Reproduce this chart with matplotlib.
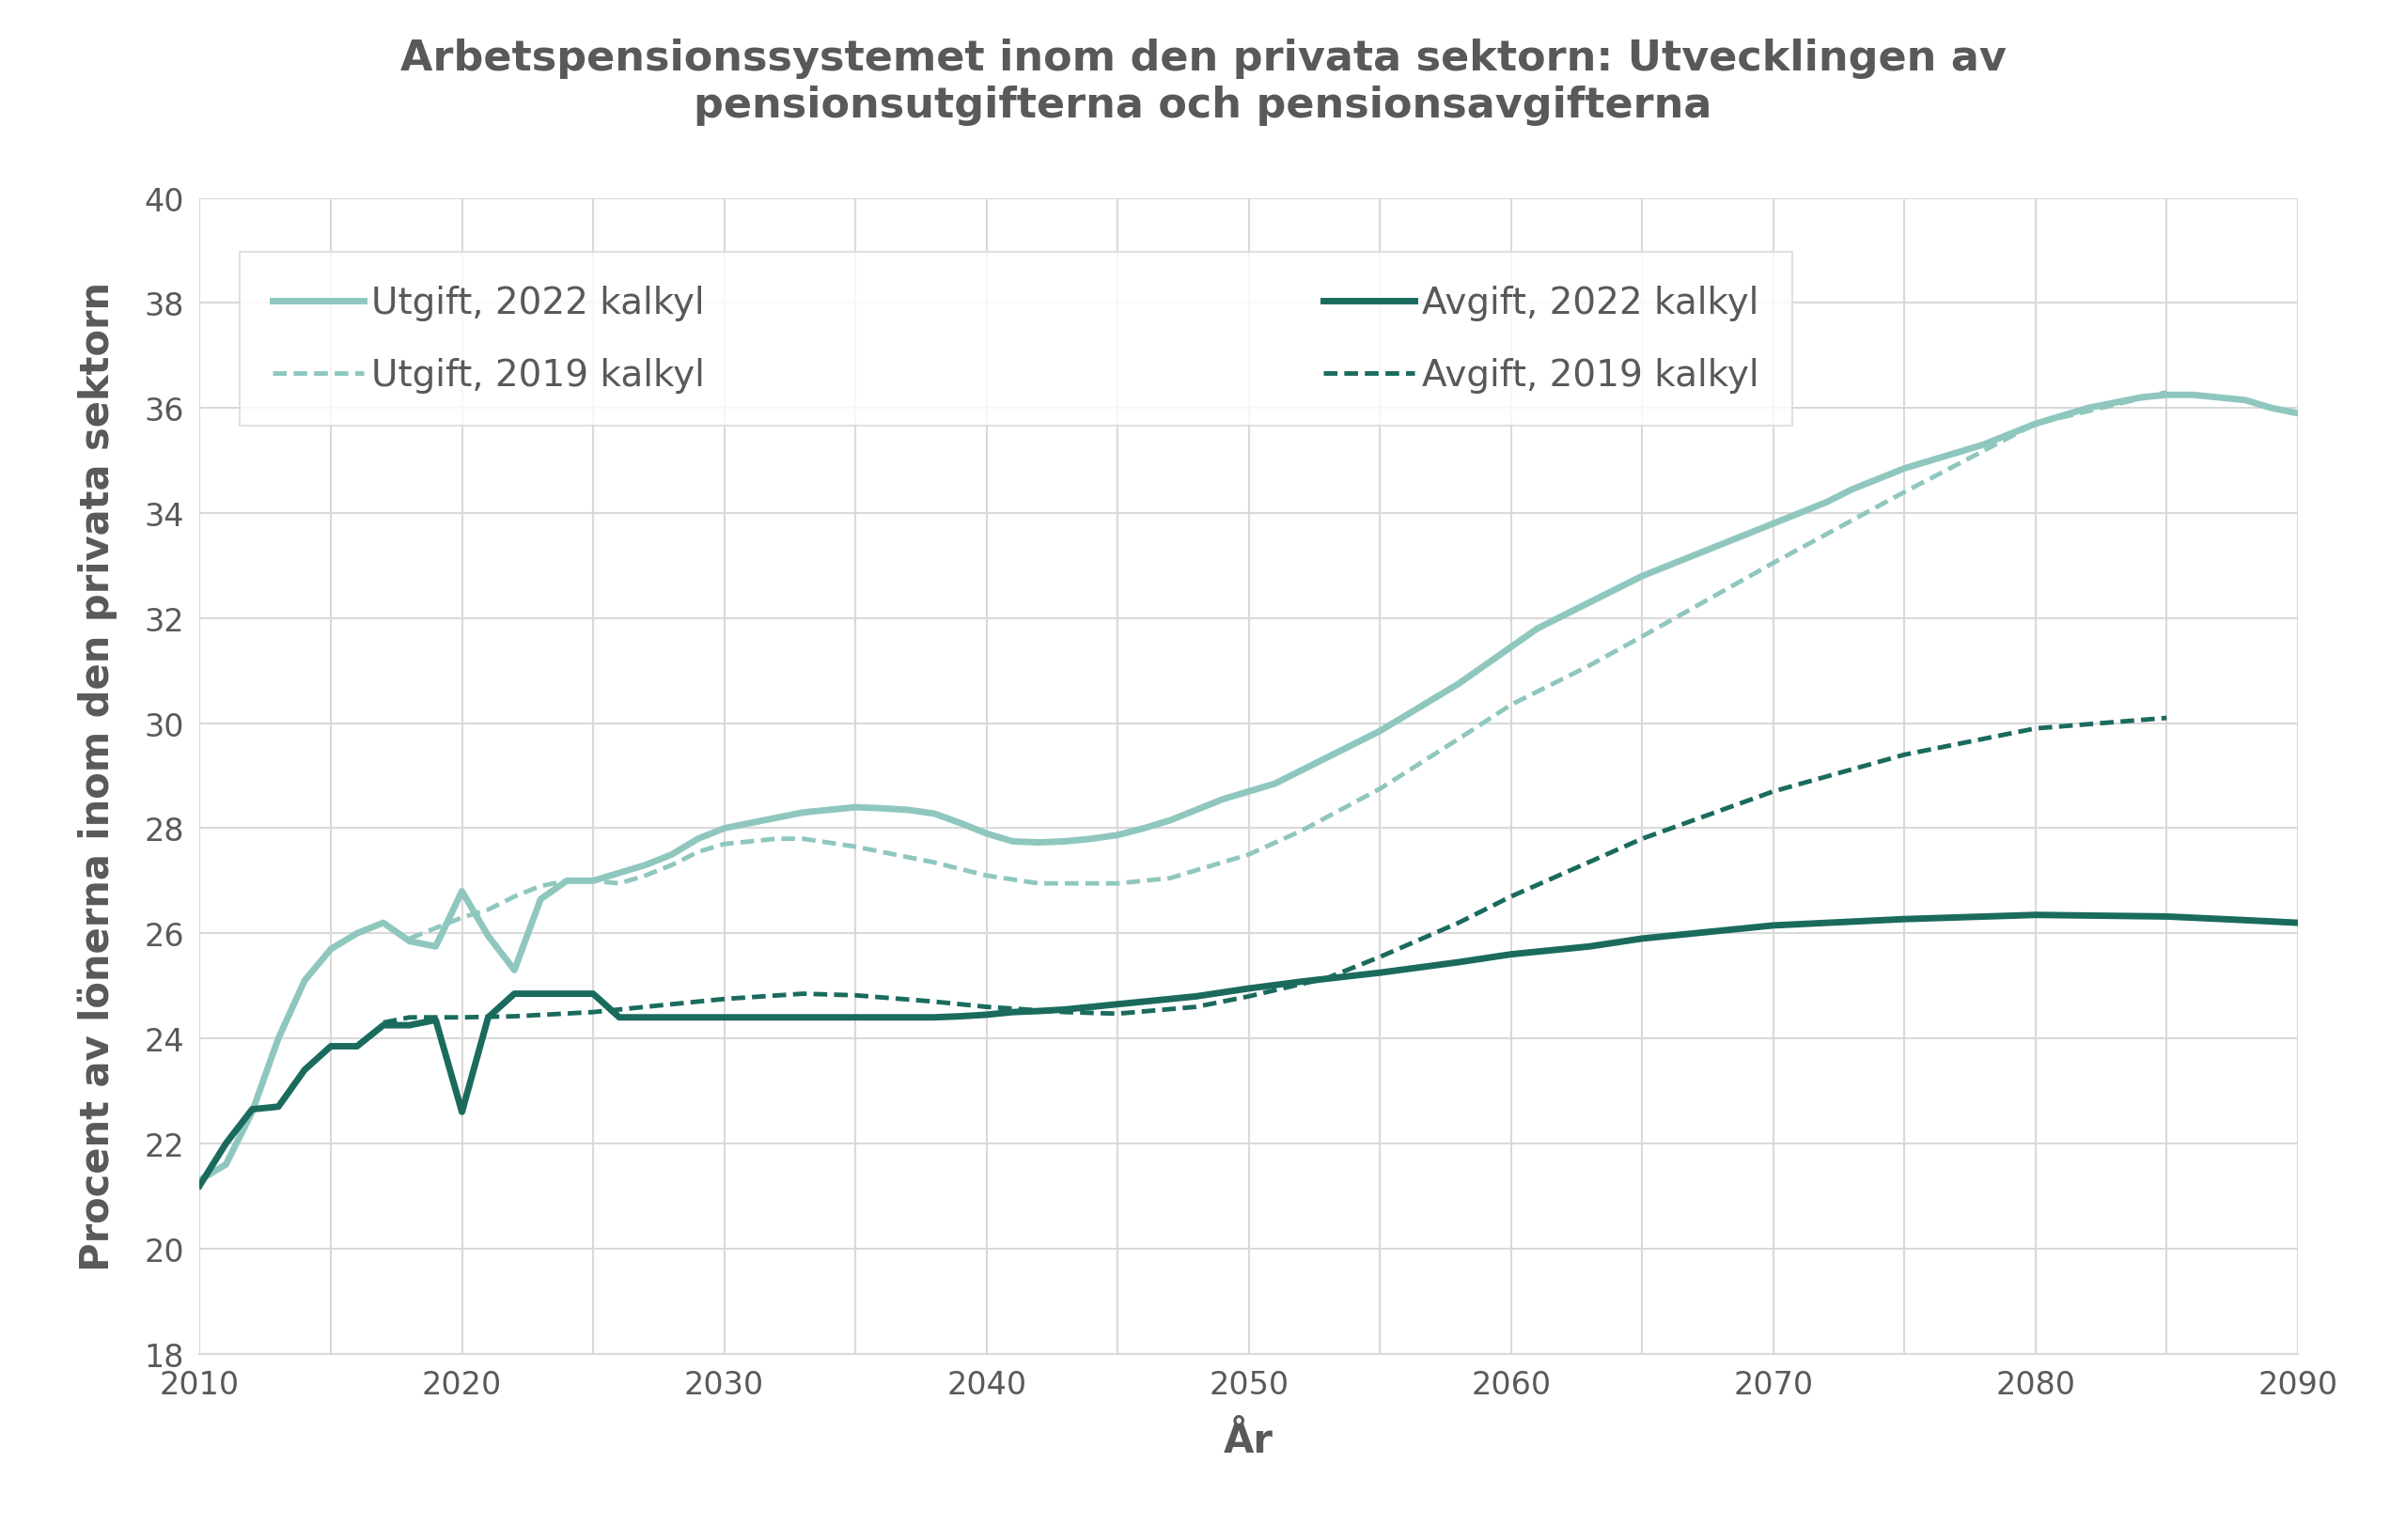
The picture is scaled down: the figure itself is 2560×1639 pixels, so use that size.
import matplotlib
matplotlib.use("Agg")
import matplotlib.pyplot as plt

ut22_years = list(range(2010, 2091))
ut22 = [21.3, 21.6, 22.6, 24.0, 25.1, 25.7, 26.0, 26.2, 25.85, 25.75,
        26.8, 25.95, 25.3, 26.65, 27.0, 27.0, 27.15, 27.3, 27.5, 27.8,
        28.0, 28.1, 28.2, 28.3, 28.35, 28.4, 28.38, 28.35, 28.28, 28.1,
        27.9, 27.75, 27.73, 27.75, 27.8, 27.87, 28.0, 28.15, 28.35, 28.55,
        28.7, 28.85, 29.1, 29.35, 29.6, 29.85, 30.15, 30.45, 30.75, 31.1,
        31.45, 31.8, 32.05, 32.3, 32.55, 32.8, 33.0, 33.2, 33.4, 33.6,
        33.8, 34.0, 34.2, 34.45, 34.65, 34.85, 35.0, 35.15, 35.3, 35.5,
        35.7, 35.85, 36.0, 36.1, 36.2, 36.25, 36.25, 36.2, 36.15, 36.0, 35.9]
av22_years = list(range(2010, 2047)) + [2048, 2050, 2052, 2055, 2058, 2060, 2063, 2065, 2068, 2070, 2075, 2080, 2085, 2088, 2090]
av22 = [21.2, 22.0, 22.65, 22.7, 23.4, 23.85, 23.85, 24.25, 24.25, 24.35,
        22.6, 24.4, 24.85, 24.85, 24.85, 24.85, 24.4, 24.4, 24.4, 24.4,
        24.4, 24.4, 24.4, 24.4, 24.4, 24.4, 24.4, 24.4, 24.4, 24.42,
        24.45, 24.5, 24.52, 24.55, 24.6, 24.65, 24.7,
        24.8, 24.95, 25.08, 25.25, 25.45, 25.6, 25.75, 25.9, 26.05, 26.15,
        26.27, 26.35, 26.32, 26.25, 26.2]
ut19_years = [2018, 2019, 2020, 2021, 2022, 2023, 2024, 2025, 2026, 2027, 2028, 2029, 2030,
              2032, 2033, 2035, 2038, 2040, 2042, 2045, 2047, 2050, 2052, 2055, 2058, 2060,
              2063, 2065, 2070, 2075, 2080, 2085]
ut19 = [25.9, 26.1, 26.3, 26.45, 26.7, 26.9, 27.0, 27.0, 26.95, 27.1, 27.3, 27.55, 27.7,
        27.8, 27.8, 27.65, 27.35, 27.1, 26.95, 26.95, 27.05, 27.5, 27.95, 28.75, 29.7, 30.35,
        31.1, 31.65, 33.05, 34.4, 35.7, 36.3]
av19_years = [2017, 2018, 2020, 2022, 2025, 2028, 2030, 2033, 2035, 2038, 2040, 2043, 2045,
              2048, 2050, 2053, 2055, 2058, 2060, 2065, 2070, 2075, 2080, 2085]
av19 = [24.3, 24.4, 24.4, 24.42, 24.5, 24.65, 24.75, 24.85, 24.82, 24.7, 24.6, 24.5, 24.47,
        24.6, 24.8, 25.15, 25.55, 26.2, 26.7, 27.8, 28.7, 29.4, 29.9, 30.1]

light = "#8fc7bf"
dark = "#1a6b5e"
gray = "#595959"

fig = plt.figure(figsize=(25.6, 16.4), dpi=100)
ax = fig.add_axes([0.083, 0.121, 0.872, 0.75])
ax.plot(ut22_years, ut22, color=light, lw=5, label="Utgift, 2022 kalkyl")
ax.plot(av22_years, av22, color=dark, lw=5, label="Avgift, 2022 kalkyl")
ax.plot(ut19_years, ut19, color=light, lw=3.5, ls=(0, (3, 1.5)), label="Utgift, 2019 kalkyl")
ax.plot(av19_years, av19, color=dark, lw=3.5, ls=(0, (3, 1.5)), label="Avgift, 2019 kalkyl")

ax.set_xlim(2010, 2090)
ax.set_ylim(18, 40)
ax.set_xticks(range(2010, 2091, 10))
ax.set_yticks(range(18, 41, 2))
ax.set_xticks(range(2010, 2091, 5), minor=True)
ax.grid(True, which="both", color="#d9d9d9", lw=1.5)
ax.set_axisbelow(True)
for s in ["top", "right", "left"]:
    ax.spines[s].set_visible(False)
ax.spines["bottom"].set_color("#d9d9d9")
ax.spines["bottom"].set_linewidth(1.5)
ax.tick_params(which="both", length=0, labelsize=24, colors=gray, pad=12)
ax.set_xlabel("År", fontsize=30, fontweight="bold", color=gray, labelpad=16)
ax.set_ylabel("Procent av lönerna inom den privata sektorn", fontsize=30, fontweight="bold", color=gray, labelpad=20)
fig.suptitle("Arbetspensionssystemet inom den privata sektorn: Utvecklingen av\npensionsutgifterna och pensionsavgifterna",
             fontsize=32, fontweight="bold", color=gray, y=0.975)

handles, labels = ax.get_legend_handles_labels()
leg = ax.legend([handles[i] for i in [0, 2, 1, 3]], [labels[i] for i in [0, 2, 1, 3]],
                ncol=2, loc="upper left", bbox_to_anchor=(0.019, 0.791, 0.74, 0.162), mode="expand",
                fontsize=28, frameon=True, fancybox=False, handlelength=2.5, handletextpad=0.2,
                labelspacing=1.0, borderpad=0.9, labelcolor=gray, borderaxespad=0)
leg.get_frame().set_edgecolor("#d9d9d9")
leg.get_frame().set_linewidth(1.5)
for t in leg.get_texts():
    pass
fig.savefig("out.png", dpi=100)
